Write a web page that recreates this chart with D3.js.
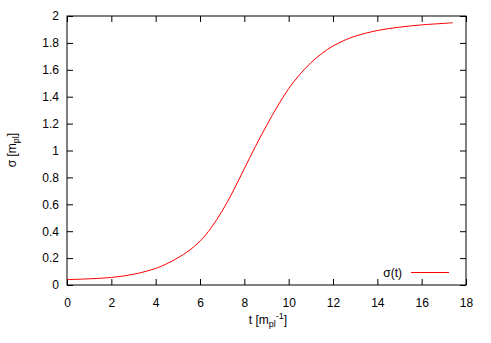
<!DOCTYPE html>
<html>
<head>
<meta charset="utf-8">
<script src="https://cdn.jsdelivr.net/npm/d3@7"></script>
<style>
  body { margin: 0; background: #fff; }
  text { font-family: "Liberation Sans", Arial, sans-serif; font-size: 12px; fill: #000; }
</style>
</head>
<body>
<div id="chart"></div>
<script>
// values
const tVals = [0, 1, 2, 3, 4, 4.5, 5, 5.5, 6, 6.5, 7, 7.5, 8, 8.5, 9, 9.5, 10, 10.5, 11, 11.5, 12, 12.5, 13, 14, 15, 16, 17, 17.4];
const sigmaVals = [0.040, 0.046, 0.056, 0.080, 0.123, 0.158, 0.202, 0.255, 0.325, 0.425, 0.55, 0.70, 0.865, 1.03, 1.185, 1.33, 1.46, 1.565, 1.652, 1.722, 1.777, 1.818, 1.85, 1.892, 1.917, 1.934, 1.945, 1.95];
const xTicks = [0, 2, 4, 6, 8, 10, 12, 14, 16, 18];
const yTicks = [0, 0.2, 0.4, 0.6, 0.8, 1, 1.2, 1.4, 1.6, 1.8, 2];

const data = tVals.map((t, i) => ({ t: t, s: sigmaVals[i] }));

const W = 491, H = 343;
const margin = { top: 16, right: 25, bottom: 58, left: 67 },
  width = W - margin.left - margin.right,
  height = H - margin.top - margin.bottom;

const svg = d3.select("#chart").append("svg")
  .attr("width", W)
  .attr("height", H);

const g = svg.append("g")
  .attr("transform", `translate(${margin.left},${margin.top})`);

const x = d3.scaleLinear().domain([0, 18]).range([0, width]);
const y = d3.scaleLinear().domain([0, 2]).range([height, 0]);

// bottom axis with inward ticks
const xAxis = g.append("g")
  .attr("transform", `translate(0,${height})`)
  .call(d3.axisBottom(x).tickValues(xTicks).tickSize(-6).tickPadding(13).tickFormat(d3.format("d")));
// left axis
const yAxis = g.append("g")
  .call(d3.axisLeft(y).tickValues(yTicks).tickSize(-6).tickPadding(8).tickFormat(d => d3.format("")(d)));
// mirrored ticks top / right
const xTop = g.append("g")
  .call(d3.axisTop(x).tickValues(xTicks).tickSize(-6).tickFormat(""));
const yRight = g.append("g")
  .attr("transform", `translate(${width},0)`)
  .call(d3.axisRight(y).tickValues(yTicks).tickSize(-6).tickFormat(""));

[xAxis, yAxis, xTop, yRight].forEach(a => {
  a.select(".domain").remove();
  a.selectAll("line").attr("stroke", "#000");
  a.selectAll("text").style("font-size", "12px").style("font-family", "Liberation Sans, Arial, sans-serif");
});

// border
g.append("rect")
  .attr("width", width)
  .attr("height", height)
  .attr("fill", "none")
  .attr("stroke", "#000")
  .attr("stroke-width", 1);

// curve
g.append("path")
  .datum(data)
  .attr("fill", "none")
  .attr("stroke", "#ff0000")
  .attr("stroke-width", 1)
  .attr("d", d3.line()
    .x(d => x(d.t))
    .y(d => y(d.s))
    .curve(d3.curveCatmullRom.alpha(0.5)));

// legend
g.append("text")
  .attr("x", 335)
  .attr("y", 261)
  .attr("text-anchor", "end")
  .text("σ(t)");
g.append("line")
  .attr("x1", 344).attr("x2", 382)
  .attr("y1", 256.5).attr("y2", 256.5)
  .attr("stroke", "#ff0000");

// axis labels
const xl = svg.append("text")
  .attr("x", 268)
  .attr("y", 324)
  .attr("text-anchor", "middle");
xl.append("tspan").text("t [m");
xl.append("tspan").attr("dy", 3).style("font-size", "9px").text("pl");
xl.append("tspan").attr("dy", -8).style("font-size", "9px").text("-1");
xl.append("tspan").attr("dy", 5).text("]");

const yl = svg.append("text")
  .attr("transform", "translate(16,150) rotate(-90)")
  .attr("text-anchor", "middle");
yl.append("tspan").text("σ [m");
yl.append("tspan").attr("dy", 3).style("font-size", "9px").text("pl");
yl.append("tspan").attr("dy", -3).text("]");
</script>
</body>
</html>
